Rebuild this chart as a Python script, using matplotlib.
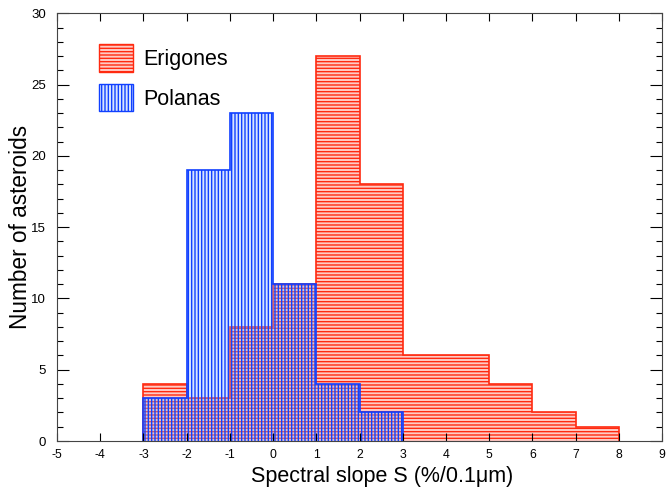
import numpy as np
import matplotlib
matplotlib.use("Agg")
import matplotlib.pyplot as plt
from matplotlib.patches import Patch

plt.rcParams['font.family'] = ['Liberation Sans', 'DejaVu Sans']
plt.rcParams['hatch.linewidth'] = 1.0
plt.rcParams['axes.unicode_minus'] = False

# bin edges of the histograms (spectral slope, %/0.1um)
edges = np.arange(-3, 9, 1)
erigones = [4, 3, 8, 11, 27, 18, 6, 6, 4, 2, 1]
polanas = [3, 19, 23, 11, 4, 2]

red = '#ff2a10'
blue = '#1040ff'
red_fill = (1, 0.6, 0.55, 0.5)
blue_fill = (0.55, 0.7, 1, 0.35)

fig = plt.figure(figsize=(6.67, 4.88), dpi=100)
ax = fig.add_axes([0.0855, 0.0963, 0.907, 0.8764])

ax.stairs(erigones, edges, fill=True, facecolor=red_fill, edgecolor=red,
          hatch='-----', linewidth=1.2)
ax.stairs(polanas, edges[:len(polanas) + 1], fill=True, facecolor=blue_fill,
          edgecolor=blue, hatch='|||||', linewidth=1.2)

ax.set_xlim(-5, 9)
ax.set_ylim(0, 30)
ax.set_xticks(np.arange(-5, 10, 1))
ax.set_yticks(np.arange(0, 31, 5))
ax.set_yticks(np.arange(0, 31, 1), minor=True)
ax.tick_params(which='both', direction='in', top=True, right=True)
ax.tick_params(axis='y', which='major', length=8.5, width=0.8, pad=8, labelsize=9.5)
ax.tick_params(axis='y', which='minor', length=4.3, width=0.8)
ax.tick_params(axis='x', which='major', length=5.8, width=0.8, pad=6, labelsize=8.8)
for s in ax.spines.values():
    s.set_linewidth(0.8)
    s.set_color('#444444')

ax.set_xlabel('Spectral slope S (%/0.1\u03bcm)', fontsize=15.5, va='baseline')
ax.xaxis.set_label_coords(0.537, -0.097)
ax.set_ylabel('Number of asteroids', fontsize=16.3, labelpad=-1)

handles = [Patch(facecolor=red_fill, edgecolor=red, hatch='-----'),
           Patch(facecolor=blue_fill, edgecolor=blue, hatch='|||||')]
ax.legend(handles, ['Erigones', 'Polanas'], loc='upper left', bbox_to_anchor=(0.055, 0.948),
          frameon=False, fontsize=15.5, handlelength=1.6, handleheight=1.6,
          handletextpad=0.45, labelspacing=0.55, borderaxespad=0)

fig.savefig('out.png', dpi=100)
